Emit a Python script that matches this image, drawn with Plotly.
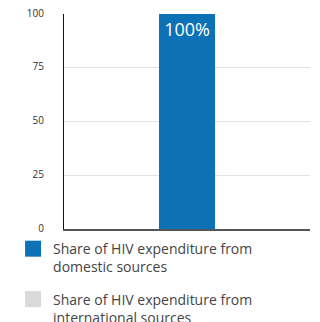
import plotly.graph_objects as go

categories = [""]
domestic = [100]
international = [0]
domestic_labels = ["100%"]
y_ticks = [0, 25, 50, 75, 100]
series_names = ["Share of HIV expenditure from<br>domestic sources",
                "Share of HIV expenditure from<br>international sources"]
series_colors = ["#0d71b5", "#d9dadc"]

FONT = "Open Sans"

fig = go.Figure()
fig.add_trace(go.Bar(
    x=categories, y=domestic, name=series_names[0], showlegend=False,
    marker=dict(color=series_colors[0], line=dict(width=0)), width=0.228,
    text=domestic_labels, textposition="inside", insidetextanchor="end",
    textfont=dict(color="white", size=18, family=FONT), hoverinfo="skip",
))
fig.add_trace(go.Bar(
    x=categories, y=international, name=series_names[1], showlegend=False,
    marker=dict(color=series_colors[1], line=dict(width=0)), width=0.228,
    text=[""], hoverinfo="skip",
))
# legend entries (square swatches)
for i, (nm, col) in enumerate(zip(series_names, series_colors)):
    fig.add_trace(go.Scatter(
        x=[None], y=[None], mode="markers", name=nm, legendgroup=f"g{i}",
        marker=dict(symbol="square", size=16, color=col, line=dict(width=0)),
        hoverinfo="skip",
    ))

fig.update_layout(
    barmode="stack",
    width=320, height=322,
    margin=dict(l=64, r=10, t=14, b=93, autoexpand=False),
    paper_bgcolor="white", plot_bgcolor="white",
    font=dict(family=FONT, color="#444"),
    showlegend=True,
    legend=dict(
        orientation="v", x=-0.207, xanchor="left", y=-0.019, yanchor="top",
        font=dict(size=14, color="#444", family=FONT),
        traceorder="grouped", itemwidth=30, tracegroupgap=11, valign="top",
        bgcolor="rgba(0,0,0,0)",
    ),
    xaxis=dict(showgrid=False, showticklabels=False, ticks="", showline=True,
               linecolor="#555", linewidth=2, fixedrange=True),
    yaxis=dict(range=[0, 100], tickvals=y_ticks, ticktext=[str(v) for v in y_ticks],
               showgrid=True, gridcolor="#e2e2e2", gridwidth=1, zeroline=False,
               showline=True, linecolor="#111", linewidth=1, ticks="",
               ticklabelstandoff=17, ticklabelshift=-1, ticklabeloverflow="allow",
               tickfont=dict(size=10, color="#333", family=FONT)),
)

# remove the browser's default page margin so the figure sits at the top-left corner
fig.write_html("out.html", config={"displayModeBar": False},
               post_script="document.body.style.margin='0';")
